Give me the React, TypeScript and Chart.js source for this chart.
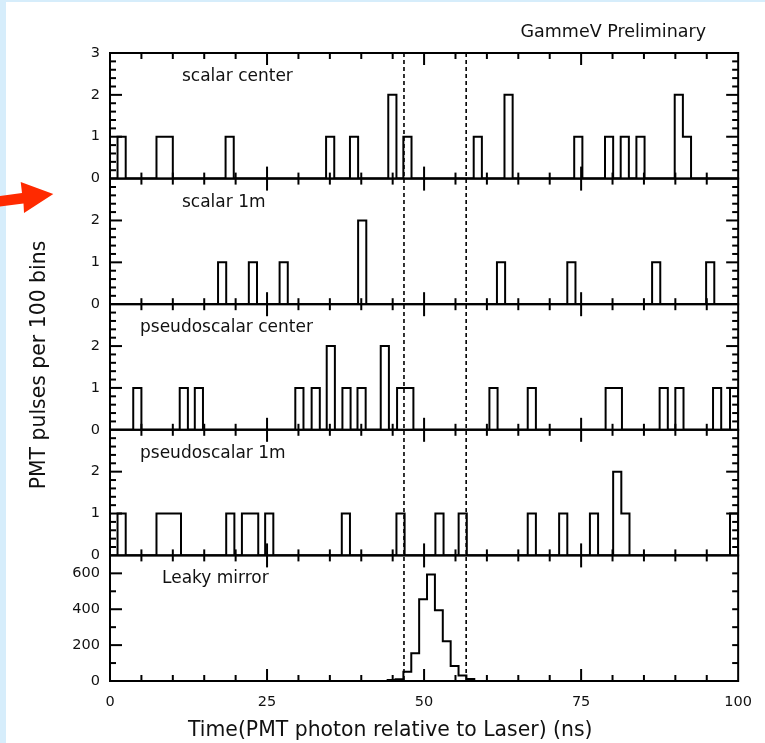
import React, { useEffect, useRef } from 'react';
import { Chart, registerables } from 'chart.js';

Chart.register(...registerables);

// ---- data (time in ns, counts per bin) ----
const X_TICKS = [0, 25, 50, 75, 100];
const BIN_NS = 1.3;
const LEAKY_BIN_NS = 1.254;
const CUT_LINES = [46.8, 56.7];

const PANEL_LABELS = ['scalar center', 'scalar 1m', 'pseudoscalar center', 'pseudoscalar 1m', 'Leaky mirror'];
const Y_MAX = [3, 3, 3, 3, 700];
const Y_TICKS = [[0, 1, 2, 3], [0, 1, 2], [0, 1, 2], [0, 1, 2], [0, 200, 400, 600]];
const Y_STEP = [1, 1, 1, 1, 200];
const Y_MINOR = [0.2, 0.2, 0.2, 0.2, 100];

const scalarCenterStart = [1.2, 7.4, 8.7, 18.4, 34.4, 38.2, 44.3, 46.7, 57.9, 62.8, 73.9, 78.8, 81.3, 83.8, 89.9, 91.2];
const scalarCenterCount = [1, 1, 1, 1, 1, 1, 2, 1, 1, 2, 1, 1, 1, 1, 2, 1];

const scalar1mStart = [17.2, 22.1, 27.0, 39.5, 61.6, 72.8, 86.3, 94.9];
const scalar1mCount = [1, 1, 1, 2, 1, 1, 1, 1];

const pseudoCenterStart = [3.7, 11.1, 13.5, 29.5, 32.1, 34.5, 37.0, 39.4, 43.1, 45.7, 47.0, 60.4, 66.5, 78.9, 80.2, 87.5, 90.0, 96.0, 98.7];
const pseudoCenterCount = [1, 1, 1, 1, 1, 2, 1, 1, 2, 1, 1, 1, 1, 1, 1, 1, 1, 1, 1];

const pseudo1mStart = [1.2, 7.4, 8.7, 10.0, 18.5, 21.0, 22.3, 24.7, 36.9, 45.6, 51.8, 55.5, 66.5, 71.5, 76.4, 80.1, 81.4, 98.7];
const pseudo1mCount = [1, 1, 1, 1, 1, 1, 1, 1, 1, 1, 1, 1, 1, 1, 1, 2, 1, 1];

const leakyStart = [44.2, 45.46, 46.74, 47.99, 49.25, 50.5, 51.76, 53.01, 54.26, 55.52, 56.77];
const leakyCount = [6, 10, 52, 154, 455, 593, 394, 222, 83, 30, 11];

// build step outline of a histogram from bin starts / counts
function steps(starts: number[], counts: number[], w: number) {
  const pts: { x: number; y: number }[] = [{ x: 0, y: 0 }];
  let end = 0;
  starts.forEach((s0, i) => {
    let s = s0;
    if (i > 0 && Math.abs(s - end) < 0.1) {
      s = end;
    } else {
      pts.push({ x: end, y: 0 });
      pts.push({ x: s, y: 0 });
    }
    pts.push({ x: s, y: counts[i] });
    end = s + w;
    pts.push({ x: end, y: counts[i] });
  });
  pts.push({ x: end, y: 0 });
  pts.push({ x: 100, y: 0 });
  return pts;
}

const SERIES = [
  steps(scalarCenterStart, scalarCenterCount, BIN_NS),
  steps(scalar1mStart, scalar1mCount, BIN_NS),
  steps(pseudoCenterStart, pseudoCenterCount, BIN_NS),
  steps(pseudo1mStart, pseudo1mCount, BIN_NS),
  steps(leakyStart, leakyCount, LEAKY_BIN_NS),
];

const FONT = 'DejaVu Sans';
const LABEL_DX = [72, 72, 30, 30, 52];

const decor = {
  id: 'decor',
  beforeDraw(chart: any) {
    const ctx = chart.ctx as CanvasRenderingContext2D;
    ctx.save();
    ctx.fillStyle = '#d6edfb';
    ctx.fillRect(0, 0, chart.width, chart.height);
    ctx.fillStyle = '#ffffff';
    ctx.fillRect(6, 2, chart.width - 6, chart.height - 2);
    // red arrow
    ctx.fillStyle = '#ff2a00';
    ctx.beginPath();
    ctx.moveTo(0, 196);
    ctx.lineTo(22, 193);
    ctx.lineTo(20.7, 182);
    ctx.lineTo(53.3, 194);
    ctx.lineTo(24, 213);
    ctx.lineTo(23.5, 203.5);
    ctx.lineTo(0, 206.5);
    ctx.closePath();
    ctx.fill();
    ctx.restore();
  },
  afterDraw(chart: any) {
    const ctx = chart.ctx as CanvasRenderingContext2D;
    const xs = chart.scales.x;
    const { left, right, top: areaTop, bottom: areaBottom } = chart.chartArea;
    const seg = (x1: number, y1: number, x2: number, y2: number) => {
      ctx.beginPath();
      ctx.moveTo(x1, y1);
      ctx.lineTo(x2, y2);
      ctx.stroke();
    };
    ctx.save();
    ctx.strokeStyle = '#000';
    ctx.lineWidth = 2;
    for (let i = 0; i < 5; i++) {
      const ys = chart.scales['y' + i];
      const top = ys.top;
      const bottom = ys.bottom;
      ctx.strokeRect(left, top, right - left, bottom - top);
      // x ticks (inward, top and bottom)
      for (let k = 1; k < 20; k++) {
        const v = k * 5;
        const px = xs.getPixelForValue(v);
        const len = v % 25 === 0 ? 12 : 6;
        seg(px, bottom, px, bottom - len);
        seg(px, top, px, top + len);
      }
      // y ticks
      const n = Math.round(Y_MAX[i] / Y_MINOR[i]);
      const majorEvery = Math.round(Y_STEP[i] / Y_MINOR[i]);
      for (let k = 1; k < n; k++) {
        const v = k * Y_MINOR[i];
        const py = ys.getPixelForValue(v);
        const major = k % majorEvery === 0;
        const lenL = major ? 12 : 6;
        const lenR = i === 4 ? 6 : major ? 12 : 6;
        seg(left, py, left + lenL, py);
        seg(right, py, right - lenR, py);
      }
      // panel label
      ctx.fillStyle = '#111';
      ctx.font = `17px "${FONT}"`;
      ctx.textAlign = 'left';
      ctx.textBaseline = 'alphabetic';
      ctx.fillText(PANEL_LABELS[i], left + LABEL_DX[i], top + 28);
    }
    // dashed cut lines
    ctx.lineWidth = 1.6;
    ctx.setLineDash([4, 3]);
    CUT_LINES.forEach((c) => {
      const px = xs.getPixelForValue(c);
      seg(px, areaTop, px, areaBottom);
    });
    ctx.setLineDash([]);
    // titles
    ctx.fillStyle = '#111';
    ctx.font = `17.5px "${FONT}"`;
    ctx.textAlign = 'right';
    ctx.fillText('GammeV Preliminary', 706, 37);
    ctx.font = `20.4px "${FONT}"`;
    ctx.textAlign = 'left';
    ctx.fillText('Time(PMT photon relative to Laser) (ns)', 188, 736);
    ctx.save();
    ctx.translate(40, 365);
    ctx.rotate(-Math.PI / 2);
    ctx.textAlign = 'center';
    ctx.textBaseline = 'middle';
    ctx.fillText('PMT pulses per 100 bins', 0, 0);
    ctx.restore();
    ctx.restore();
  },
};

export default function App() {
  const ref = useRef<HTMLCanvasElement>(null);
  useEffect(() => {
    const yScales: any = {};
    for (let i = 0; i < 5; i++) {
      yScales['y' + i] = {
        type: 'linear',
        position: 'left',
        stack: 'panels',
        stackWeight: 1,
        weight: 10 - i,
        min: 0,
        max: Y_MAX[i],
        grid: { display: false, drawTicks: false },
        border: { display: false },
        ticks: {
          stepSize: Y_STEP[i],
          padding: 10,
          autoSkip: false,
          color: '#111',
          font: { family: FONT, size: 14.5 },
        },
        afterBuildTicks: (s: any) => {
          s.ticks = Y_TICKS[i].map((v) => ({ value: v }));
        },
        afterFit: (s: any) => {
          s.width = 110;
        },
      };
    }
    const chart = new Chart(ref.current as HTMLCanvasElement, {
      type: 'line',
      data: {
        datasets: SERIES.map((pts, i) => ({
          data: pts,
          xAxisID: 'x',
          yAxisID: 'y' + i,
          borderColor: '#000',
          borderWidth: 2,
          pointRadius: 0,
          fill: false,
          tension: 0,
          borderJoinStyle: 'miter' as const,
        })),
      },
      options: {
        responsive: false,
        animation: false,
        devicePixelRatio: 1,
        layout: { padding: { top: 53, right: 26, bottom: 0, left: 0 } },
        plugins: { legend: { display: false }, tooltip: { enabled: false } },
        scales: {
          x: {
            type: 'linear',
            position: 'bottom',
            min: 0,
            max: 100,
            grid: { display: false, drawTicks: false },
            border: { display: false },
            ticks: {
              stepSize: 25,
              padding: 13,
              maxRotation: 0,
              autoSkip: false,
              color: '#111',
              font: { family: FONT, size: 14.5 },
            },
            afterBuildTicks: (s: any) => {
              s.ticks = X_TICKS.map((v) => ({ value: v }));
            },
            afterFit: (s: any) => {
              s.height = 62;
            },
          },
          ...yScales,
        },
      },
      plugins: [decor],
    } as any);
    return () => chart.destroy();
  }, []);
  return (
    <div style={{ position: 'absolute', left: 0, top: 0, width: 765, height: 743 }}>
      <canvas ref={ref} width={765} height={743} style={{ display: 'block', width: 765, height: 743 }} />
    </div>
  );
}
